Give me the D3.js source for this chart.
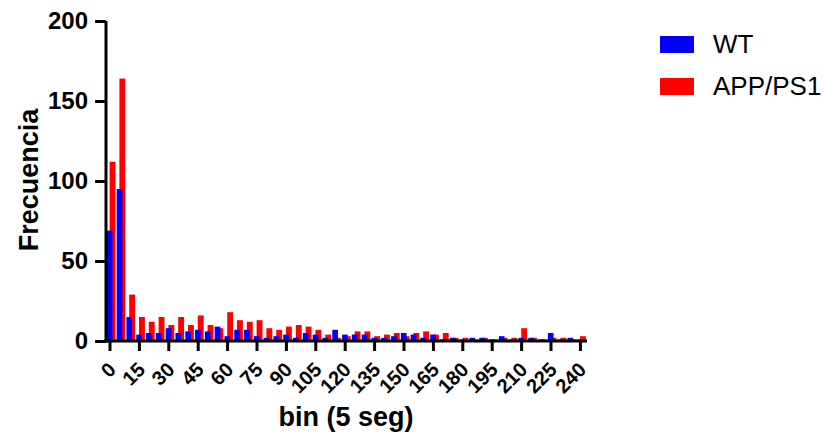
<!DOCTYPE html>
<html>
<head>
<meta charset="utf-8">
<script src="https://cdn.jsdelivr.net/npm/d3@7"></script>
<style>
  body { margin: 0; background: #fff; }
  text { font-family: "Liberation Sans", Arial, sans-serif; }
</style>
</head>
<body>
<script>
    // bins de 5 segundos
    var bins = [0, 5, 10, 15, 20, 25, 30, 35, 40, 45, 50, 55, 60, 65, 70, 75, 80,
        85, 90, 95, 100, 105, 110, 115, 120, 125, 130, 135, 140, 145, 150, 155, 160,
        165, 170, 175, 180, 185, 190, 195, 200, 205, 210, 215, 220, 225, 230, 235, 240];

    var wtValues = [69, 95, 15, 4, 5, 5, 8, 5, 6, 7, 6, 9, 3, 7, 7, 3, 2,
        3, 4, 2, 5, 4, 2, 7, 4, 4, 4, 2, 2, 3, 5, 4, 2,
        4, 1, 2, 1, 2, 2, 1, 3, 1, 2, 2, 1, 5, 1, 2, 1];

    var appValues = [112, 164, 29, 15, 12, 15, 10, 15, 10, 16, 10, 8, 18, 13, 12, 13, 8,
        7, 9, 10, 9, 7, 4, 2, 3, 6, 6, 3, 4, 5, 3, 5, 6,
        4, 5, 2, 2, 1, 2, 1, 2, 2, 8, 2, 1, 2, 2, 1, 3];

    var xTicks = [0, 15, 30, 45, 60, 75, 90, 105, 120, 135, 150, 165, 180, 195, 210, 225, 240];
    var yTicks = [0, 50, 100, 150, 200];

    var seriesNames = ["WT", "APP/PS1"];
    var seriesColors = ["#0000ff", "#ff0000"];

    var width = 825, height = 435;

    var svg = d3.select("body")
        .append("svg")
        .attr("width", width)
        .attr("height", height);

    var data = bins.map((b, i) => ({ bin: b, wt: wtValues[i], app: appValues[i] }));

    // Escalas
    var xScale = d3.scaleBand()
        .domain(bins)
        .range([105.1, 585.3])
        .padding(0);

    var yScale = d3.scaleLinear()
        .domain([0, 200])
        .range([341, 21]);

    var bw = xScale.bandwidth();

    // barras APP/PS1 (atras)
    svg.selectAll("rect.app")
        .data(data)
        .enter()
        .append("rect")
        .attr("class", "app")
        .attr("x", d => xScale(d.bin) + bw * 0.46)
        .attr("y", d => yScale(d.app))
        .attr("width", bw * 0.6)
        .attr("height", d => yScale(0) - yScale(d.app))
        .attr("fill", seriesColors[1]);

    // barras WT (adelante)
    svg.selectAll("rect.wt")
        .data(data)
        .enter()
        .append("rect")
        .attr("class", "wt")
        .attr("x", d => xScale(d.bin) + bw * 0.18)
        .attr("y", d => yScale(d.wt))
        .attr("width", bw * 0.58)
        .attr("height", d => yScale(0) - yScale(d.wt))
        .attr("fill", seriesColors[0]);

    // Eje X
    var xAxis = svg.append("g")
        .attr("transform", "translate(0,341)")
        .call(d3.axisBottom(xScale)
            .tickValues(xTicks)
            .tickSize(10)
            .tickSizeOuter(0)
            .tickFormat(""));
    xAxis.select(".domain").attr("d", "M104,0H587");
    xAxis.selectAll("path, line").attr("stroke", "#000").attr("stroke-width", 3);

    svg.selectAll("text.xlabel")
        .data(xTicks)
        .enter()
        .append("text")
        .attr("class", "xlabel")
        .text(d => d)
        .attr("text-anchor", "end")
        .attr("transform", d => "translate(" + (xScale(d) + bw / 2 + 7) + ",371) rotate(-45)")
        .style("font-size", "20px")
        .style("font-weight", "bold");

    // Eje Y
    var yAxis = svg.append("g")
        .attr("transform", "translate(106,0)")
        .call(d3.axisLeft(yScale)
            .tickValues(yTicks)
            .tickSize(11)
            .tickSizeOuter(0)
            .tickPadding(7));
    yAxis.select(".domain").attr("d", "M0,21V342.5");
    yAxis.selectAll("path, line").attr("stroke", "#000").attr("stroke-width", 3);
    yAxis.selectAll("text")
        .style("font-size", "24px")
        .style("font-weight", "bold")
        .style("font-family", "'Liberation Sans', Arial, sans-serif")
        .attr("fill", "#000");

    // rótulo eje y
    svg.append("text")
        .text("Frecuencia")
        .attr("transform", "rotate(-90)")
        .attr("x", -180)
        .attr("y", 38)
        .attr("text-anchor", "middle")
        .style("font-size", "27px")
        .style("font-weight", "bold");

    // rótulo eje x
    svg.append("text")
        .text("bin (5 seg)")
        .attr("x", 346)
        .attr("y", 426)
        .attr("text-anchor", "middle")
        .style("font-size", "27px")
        .style("font-weight", "bold");

    // leyenda
    var legend = svg.selectAll("g.legend")
        .data(seriesNames)
        .enter()
        .append("g")
        .attr("class", "legend")
        .attr("transform", (d, i) => "translate(660," + (36 + i * 42) + ")");

    legend.append("rect")
        .attr("width", 34)
        .attr("height", 17)
        .attr("fill", (d, i) => seriesColors[i]);

    legend.append("text")
        .text(d => d)
        .attr("x", 53)
        .attr("y", 17)
        .style("font-size", "26px");
</script>
</body>
</html>
